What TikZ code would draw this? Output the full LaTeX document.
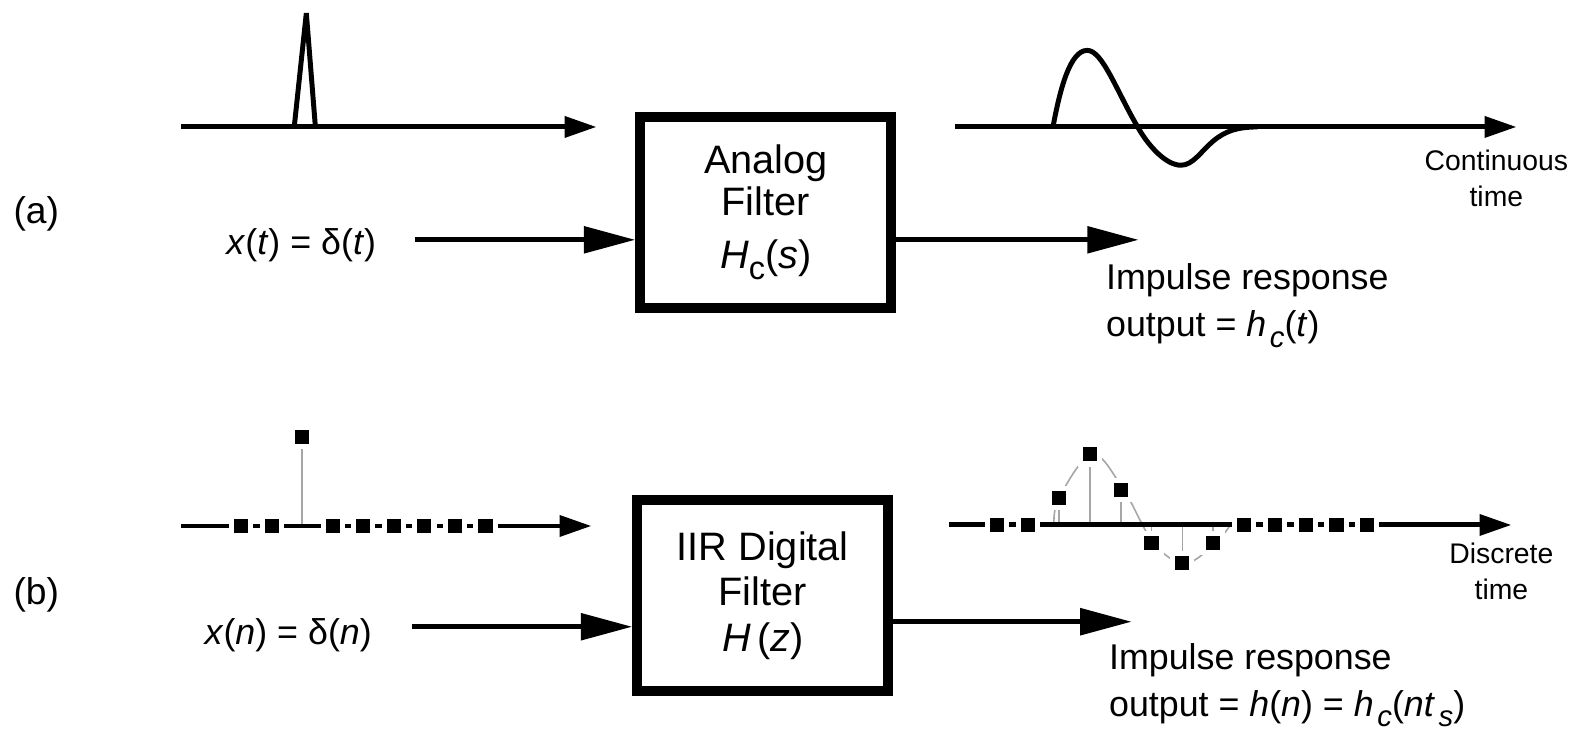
\documentclass[tikz,border=0pt]{standalone}
\usepackage{fontspec}
\setmainfont{Liberation Sans}
\usetikzlibrary{arrows.meta}
\newcommand{\lsub}[1]{\raisebox{-0.55ex}{\scalebox{0.82}{#1}}}

\begin{document}
\begin{tikzpicture}[x=0.01cm,y=-0.01cm,
    axis/.style={line width=1.4pt,-{Triangle[length=9pt,width=5.8pt]}},
    sig/.style={line width=1.4pt,-{Triangle[length=14.5pt,width=7.4pt]}},
    wave/.style={line width=1.4pt},
    filt/.style={draw,line width=2.85pt,minimum width=2.49cm,minimum height=1.9cm,
      align=center,inner sep=0pt,font=\fontsize{11.2}{12.8}\selectfont},
    samp/.style={rectangle,fill=black,draw=white,line width=0.05cm,
      minimum size=0.19cm,inner sep=0pt},
    stem/.style={black!35,line width=0.45pt},
    lbl/.style={inner sep=0pt,font=\fontsize{10.1}{13.4}\selectfont},
    tlbl/.style={inner sep=0pt,align=center,font=\fontsize{8}{10}\selectfont}]
    \useasboundingbox (0,0) rectangle (1568,725);

    % (a) analog filter
    \node[lbl,font=\fontsize{10.5}{12}\selectfont] (parta) at (36,212) {(a)};
    \node[filt] (boxa) at (760,211) {Analog\\[-1pt]Filter\\[2pt]\textit{H}\lsub{c}(\textit{s})};
    \node[lbl] (xina) at (299,243) {\textit{x}(\textit{t}) = δ(\textit{t})};
    \coordinate (ina) at (412,238);
    \coordinate (outa) at (1130,238);
    \draw[sig] (ina) -- (ina -| boxa.west);
    \draw[sig] (ina -| boxa.east) -- (outa);
    \node[lbl,anchor=west,align=left] (respa) at (1097,303)
      {Impulse response\\ output = \textit{h}\kern0.1em\lsub{\textit{c}}(\textit{t})};

    % input pulse
    \draw[axis] (180,126) -- (592,126);
    \draw[wave] (292,126) -- (304,13) -- (313,126);

    % continuous response
    \draw[axis] (948,126) -- (1505,126);
    \draw[wave] (1045,126) .. controls (1052,88) and (1062,50) .. (1079,50)
      .. controls (1094,50) and (1108,90) .. (1129,126)
      .. controls (1141,147) and (1158,164) .. (1172,164)
      .. controls (1184,164) and (1192,150) .. (1204,140)
      .. controls (1216,130) and (1228,126) .. (1248,126);
    \node[tlbl] (conta) at (1485,177) {Continuous\\time};

    % (b) digital filter
    \node[lbl,font=\fontsize{10.5}{12}\selectfont] (partb) at (36,590) {(b)};
    \node[filt] (boxb) at (757,591) {IIR Digital\\Filter\\\textit{H}\,(\textit{z})};
    \node[lbl] (xinb) at (286,630) {\textit{x}(\textit{n}) = δ(\textit{n})};
    \coordinate (inb) at (409,622);
    \coordinate (outb) at (1123,617);
    \draw[sig] (inb) -- (inb -| boxb.west);
    \draw[sig] (outb -| boxb.east) -- (outb);
    \node[lbl,anchor=west,align=left] (respb) at (1100,680)
      {Impulse response\\output = \textit{h}(\textit{n}) = \textit{h}\kern0.1em\lsub{\textit{c}}(\textit{nt}\kern0.1em\lsub{\textit{s}})};

    % input samples
    \coordinate (p0) at (300,434);
    \coordinate (q0) at (300,522);
    \draw[stem] (p0) -- (q0);
    \draw[axis] (180,522) -- (587,522);
    \node[samp] (in0) at (p0) {};
    \foreach \n in {-2,-1,1,2,3,4,5,6}
      \node[samp] (in\n) at ({300+30.3*\n},522) {};

    % output samples
    \draw[stem] plot[smooth,tension=0.6] coordinates {(1046,521) (1051,494) (1084,451)
      (1115,486) (1145,539) (1176,559) (1206,539) (1221,521)};
    \foreach \n/\h in {0/27,1/70,2/35,3/-18,4/-38,5/-18}
      \draw[stem] ({1051+30.6*\n},521) -- ({1051+30.6*\n},{521-\h});
    \draw[axis] (942,521) -- (1500,521);
    \foreach \n/\h in {0/27,1/70,2/35,3/-18,4/-38,5/-18}
      \node[samp] (out\n) at ({1051+30.6*\n},{521-\h}) {};
    \foreach \n in {-2,-1,6,7,8,9,10}
      \node[samp] (out\n) at ({1051+30.6*\n},521) {};
    \node[tlbl] (contb) at (1490,567) {Discrete\\time};
\end{tikzpicture}
\end{document}
